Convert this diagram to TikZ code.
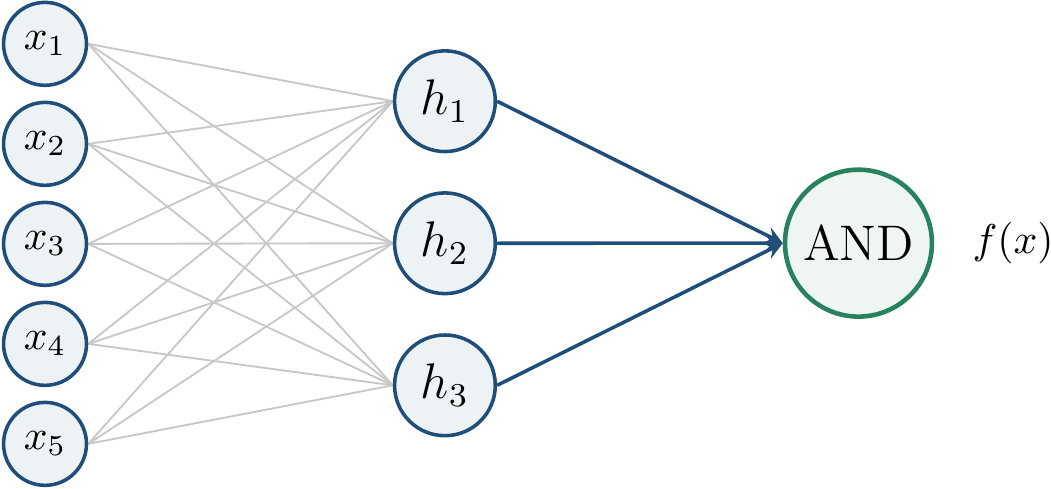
\documentclass[tikz,border=0pt]{standalone}
\usepackage{tikz}
\usetikzlibrary{arrows,positioning,shapes,calc,backgrounds}
\usepackage{amsmath,amssymb}
\usepackage{xcolor}
\definecolor{nodeblue}{RGB}{31,78,121}
\definecolor{nodefill}{RGB}{237,242,245}
\definecolor{andgreen}{RGB}{40,130,95}
\definecolor{andfill}{RGB}{238,245,242}
\definecolor{wiregray}{RGB}{200,200,200}

\begin{document}
\begin{tikzpicture}[
    inp/.style={circle,draw=nodeblue,fill=nodefill,line width=0.85pt,minimum size=0.70cm,inner sep=0pt},
    hid/.style={circle,draw=nodeblue,fill=nodefill,line width=0.85pt,minimum size=0.85cm,inner sep=0pt,font=\large},
    outp/.style={circle,draw=andgreen,fill=andfill,line width=1.1pt,minimum size=1.24cm,inner sep=0pt,font=\large},
    wire/.style={wiregray,line width=0.45pt},
    link/.style={nodeblue,line width=0.85pt,-stealth}
  ]
    \useasboundingbox (0,0) rectangle (8.87,4.12);
    \foreach \i in {1,...,5}{
      \node[inp] (x\i) at (0.38,4.594-0.844*\i) {$x_{\i}$};
    }
    \foreach \j in {1,...,3}{
      \node[hid] (h\j) at (3.755,4.465-1.199*\j) {$h_{\j}$};
    }
    \node[outp] (and) at (7.245,2.068) {AND};
    \node (fx) at (8.55,2.068) {$f(x)$};
    \begin{scope}[on background layer]
      \foreach \i in {1,...,5}{
        \foreach \j in {1,...,3}{
          \draw[wire] (x\i.east)--(h\j.west);
        }
      }
    \end{scope}
    \foreach \j in {1,...,3}{
      \draw[link] (h\j.east)--(and.west);
    }
  \end{tikzpicture}
\end{document}
